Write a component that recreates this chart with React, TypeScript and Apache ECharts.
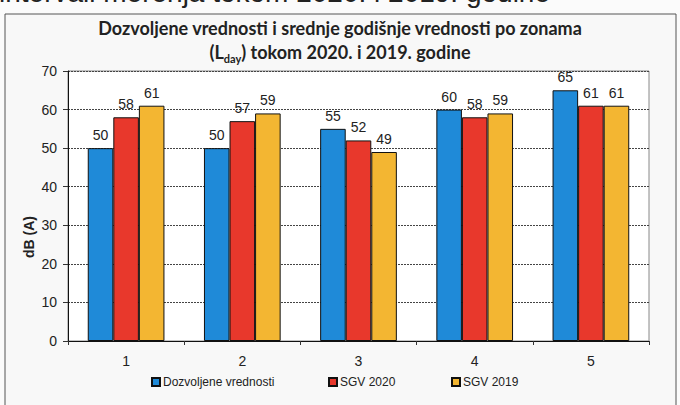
import React, { useEffect, useRef } from "react";
import * as echarts from "echarts";

const categories = ["1", "2", "3", "4", "5"];
const seriesNames = ["Dozvoljene vrednosti", "SGV 2020", "SGV 2019"];
const dozvoljene = [50, 50, 55, 60, 65];
const sgv2020 = [58, 57, 52, 58, 61];
const sgv2019 = [61, 59, 49, 59, 61];
const colors = ["#1f8ad8", "#e8382c", "#f3b632"];

export default function App() {
  const ref = useRef<HTMLDivElement>(null);
  useEffect(() => {
    if (!ref.current) return;
    const chart = echarts.init(ref.current, null, { renderer: "svg" });
    const values = [dozvoljene, sgv2020, sgv2019];
    const legendLefts = [151, 328, 451];
    chart.setOption({
      animation: false,
      backgroundColor: "#fbfbfb",
      graphic: [
        {
          type: "rect",
          shape: { x: 5, y: 14, width: 671, height: 400 },
          style: { fill: "#f8f8f8", stroke: "#555", lineWidth: 1 },
          z: -10,
        },
        {
          type: "text",
          x: -1,
          y: 6,
          z: -20,
          style: {
            text: "intervali merenja tokom 2020. i 2019. godine",
            font: "28px 'Liberation Sans', Arial, sans-serif",
            fill: "#222",
            align: "left",
            verticalAlign: "bottom",
          },
        },
        {
          type: "text",
          x: 29,
          y: 237,
          rotation: Math.PI / 2,
          style: {
            text: "dB (A)",
            font: "bold 14px 'Liberation Sans', Arial, sans-serif",
            fill: "#222",
            align: "center",
            verticalAlign: "middle",
          },
        },
      ],
      title: {
        left: "center",
        top: 16,
        padding: 0,
        text: "Dozvoljene vrednosti i srednje godišnje vrednosti po zonama\n({m|L}{sub|day}) tokom 2020. i 2019. godine",
        textStyle: {
          fontFamily: "Lato",
          fontWeight: "bold",
          fontSize: 18,
          color: "#222",
          lineHeight: 24,
          rich: {
            m: { fontFamily: "Lato", fontWeight: "bold", fontSize: 18, color: "#222", lineHeight: 24 },
            sub: { fontFamily: "Lato", fontWeight: "bold", fontSize: 11, color: "#222", verticalAlign: "bottom", lineHeight: 11 },
          },
        },
      },
      legend: seriesNames.map((n, i) => ({
        data: [n],
        left: legendLefts[i],
        top: 376,
        padding: 0,
        itemWidth: 8,
        itemHeight: 8,
        itemGap: 3,
        icon: "rect",
        selectedMode: false,
        textStyle: { fontFamily: "'Liberation Sans', Arial", fontSize: 12, color: "#222", padding: [0, 0, 0, -2] },
      })),
      grid: {
        left: 68,
        right: 31,
        top: 71,
        bottom: 64,
        show: true,
        backgroundColor: "#ffffff",
        borderColor: "#888",
        borderWidth: 1,
      },
      xAxis: {
        type: "category",
        data: categories,
        axisLine: { lineStyle: { color: "#111", width: 1 } },
        axisTick: { show: true, length: 4, lineStyle: { color: "#333" } },
        axisLabel: { fontFamily: "'Liberation Sans', Arial", fontSize: 14, color: "#222", margin: 13 },
      },
      yAxis: {
        type: "value",
        min: 0,
        max: 70,
        interval: 10,
        axisLine: { show: true, lineStyle: { color: "#111", width: 1 } },
        axisTick: { show: true, length: 5, lineStyle: { color: "#333" } },
        axisLabel: { fontFamily: "'Liberation Sans', Arial", fontSize: 14, color: "#222", margin: 11 },
        splitLine: { lineStyle: { color: "#444", type: [2, 1], width: 1 } },
      },
      series: seriesNames.map((n, i) => ({
        name: n,
        type: "bar",
        data: values[i],
        barGap: "0%",
        barCategoryGap: "34%",
        itemStyle: { color: colors[i], borderColor: "#111", borderWidth: 1 },
        label: {
          show: true,
          position: "top",
          distance: 6,
          fontFamily: "'Liberation Sans', Arial",
          fontSize: 14,
          color: "#222",
        },
      })),
    });
    return () => chart.dispose();
  }, []);
  return (
    <div
      ref={ref}
      style={{ position: "fixed", left: 0, top: 0, width: 680, height: 405 }}
    />
  );
}
